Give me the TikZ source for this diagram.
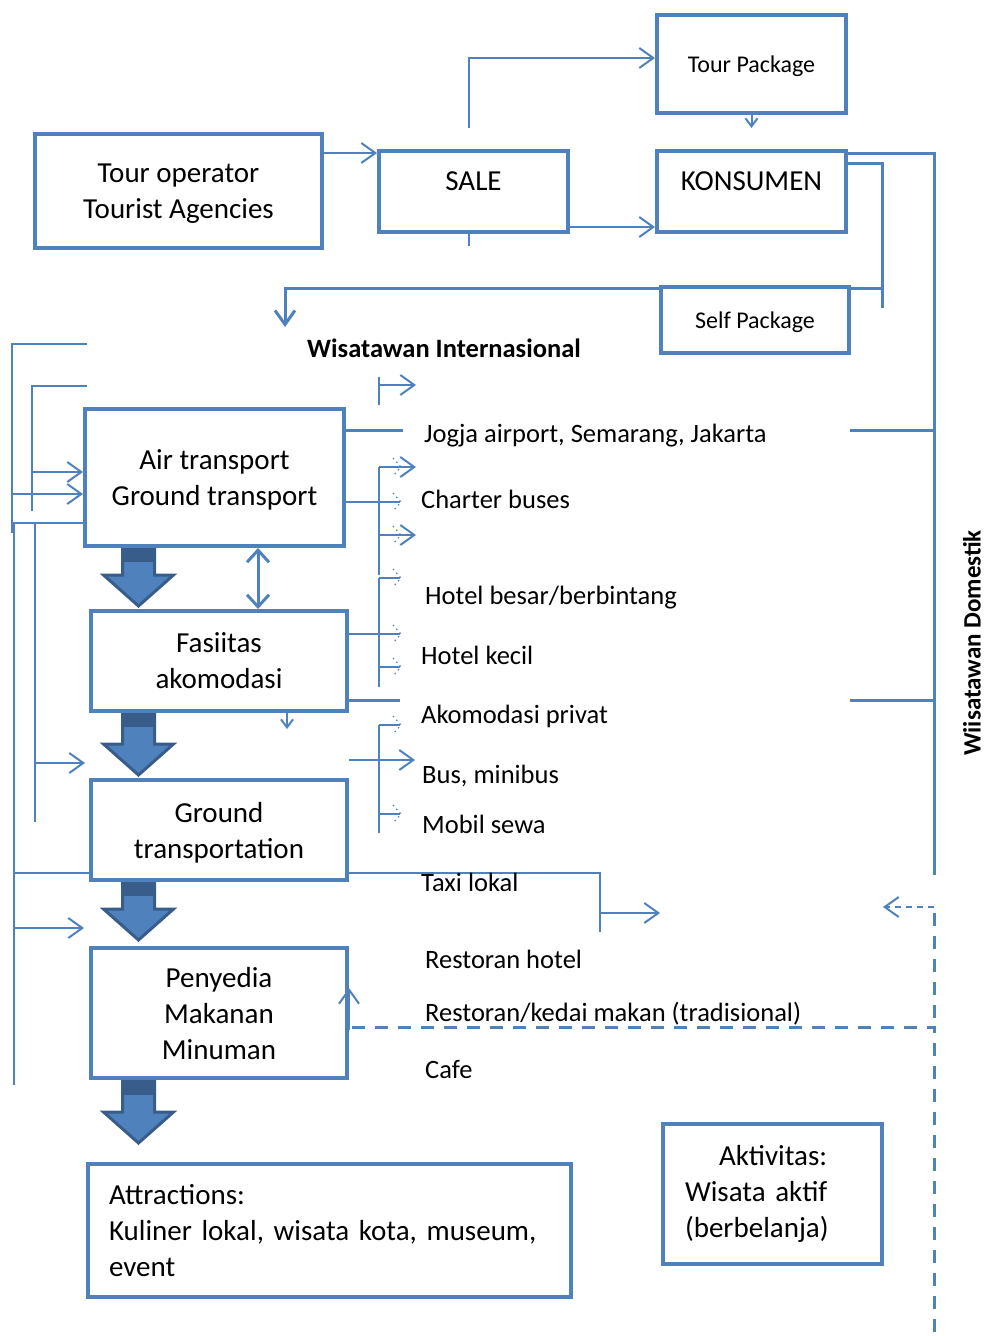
\documentclass[tikz,border=0pt]{standalone}
\usepackage{fontspec}
\setmainfont{Carlito}
\usetikzlibrary{arrows.meta,calc}

\definecolor{ublue}{RGB}{79,129,189}
\definecolor{udark}{RGB}{56,93,138}

\newcommand\bigfont{\fontsize{29}{36}\selectfont}
\newcommand\labfont{\fontsize{26.5}{32}\selectfont}
\newcommand\pkgfont{\fontsize{24}{29}\selectfont}

\tikzset{
  box/.style={draw=ublue, line width=4pt, fill=white, inner sep=0pt, align=center, font=\bigfont},
  link/.style={draw=ublue, line width=2pt},
  midlink/.style={draw=ublue, line width=3pt},
  dashlink/.style={draw=ublue, line width=3pt, dash pattern=on 13pt off 10pt},
  tip/.style={-{Straight Barb[length=14pt,width=20pt]}},
  smalltip/.style={-{Straight Barb[length=8pt,width=12pt]}},
  lab/.style={anchor=west, inner sep=0pt, font=\labfont, text height=18pt, text depth=5pt},
  ghost/.style={draw=ublue, line width=1.2pt, dash pattern=on 1.5pt off 3.5pt},
  blockarrow/.style={fill=ublue, draw=udark, line width=3pt},
}

% faint dotted barb at the end of a bracket branch
\newcommand\ghosttip[1]{\draw[ghost] ($(#1)+(-8,-9)$) -- (#1) -- ($(#1)+(-8,9)$);}
% big down arrow: x, top, tip
\newcommand\downblock[3]{%
  \filldraw[blockarrow] (#1-16,#2) -- (#1+16,#2) -- (#1+16,#3-31) -- (#1+35,#3-31)
    -- (#1,#3) -- (#1-35,#3-31) -- (#1-16,#3-31) -- cycle;
  \fill[udark] (#1-17.5,#2) rectangle (#1+17.5,#2+15);}

\begin{document}
\begin{tikzpicture}[x=1pt,y=-1pt]
\useasboundingbox (0,0) rectangle (988,1336);

% chain arrows
\downblock{138.5}{547}{606}
\downblock{138.5}{712}{775}
\downblock{138.5}{881}{940}
\downblock{138.5}{1080}{1143}

% boxes
\node[box, minimum width=287pt, minimum height=114pt, text depth=-1pt] (operator) at (178.5,191) {Tour operator\\Tourist Agencies};
\node[box, minimum width=189pt, minimum height=98pt, font=\pkgfont, text depth=-1pt] (tourpkg) at (751.5,64) {Tour Package};
\node[box, minimum width=189pt, minimum height=81pt, text depth=21pt] (sale) at (473.5,191.5) {SALE};
\node[box, minimum width=189pt, minimum height=81pt, text depth=21pt] (konsumen) at (751.5,191.5) {KONSUMEN};
\node[box, minimum width=259pt, minimum height=137pt, text depth=-1pt] (air) at (214.5,477.5) {Air transport\\Ground transport};
\node[box, minimum width=256pt, minimum height=100pt] (fasil) at (219,661) {Fasiitas\\akomodasi};
\node[box, minimum width=256pt, minimum height=100pt, text depth=-3pt] (ground) at (219,830) {Ground\\transportation};
\node[box, minimum width=256pt, minimum height=130pt, text depth=-5pt] (penyedia) at (219,1013) {Penyedia\\Makanan\\Minuman};
\node[box, minimum width=483pt, minimum height=133pt, align=left, text width=441pt] (attr) at (329.5,1230.5)
  {Attractions:\\Kuliner lokal, wisata kota, museum,\\event};
\node[box, minimum width=219pt, minimum height=140pt, align=left, text width=175pt] (aktiv) at (772.5,1194)
  {\hspace*{34pt}Aktivitas:\\Wisata aktif\\(berbelanja)};

% sale / konsumen
\coordinate (saleup) at (469,128);
\draw[link, tip] (operator.east |- 0,153) -- (sale.west |- 0,153);
\draw[link, tip] (saleup) |- (tourpkg.west |- 0,58);
\draw[link] (sale.south -| saleup) -- ++(0,12);
\draw[link, tip] (sale.east |- 0,227) -- (konsumen.west |- 0,227);
\draw[link, smalltip] (tourpkg.south) -- ++(0,13);

% konsumen to the two groups
\coordinate (domend) at (934,875);
\coordinate (selfend) at (882,308);
\coordinate (intl) at (285,327);
\draw[midlink] (konsumen.east |- 0,153) -| (domend);
\draw[midlink] (konsumen.east |- 0,163) -| (selfend);
\draw[midlink, tip] (selfend |- 0,288) -| (intl);
\node[box, minimum width=188pt, minimum height=66pt, font=\pkgfont, text depth=-1pt] (selfpkg) at (755,320) {Self Package};

\coordinate (airtick) at (850,430);
\coordinate (fastick) at (850,700);
\draw[midlink] (domend |- airtick) -- (airtick);
\draw[midlink] (domend |- fastick) -- (fastick);

% left side feeds
\coordinate (feedA) at (87,344);
\coordinate (feedB) at (87,386);
\draw[link] (feedA) -| (12,533);
\draw[link, tip] (12,494) -- (air.west |- 0,494);
\draw[link] (feedB) -| (32,511);
\draw[link, tip] (32,472) -- (air.west |- 0,472);
\draw[link] (air.west |- 0,523) -| (14,1085);
\draw[link] (air.west |- 0,523) -| (35,822);
\draw[link, tip] (35,763) -- (85,763);
\draw[link] (14,873) -- (ground.west |- 0,873);
\draw[link, tip] (14,928) -- (84,928);

% right side brackets
\coordinate (brk) at (379,0);
\draw[midlink] (air.east |- 0,430) -- (403,430);
\draw[link] (brk |- 0,377) -- (brk |- 0,405);
\draw[link, tip] (brk |- 0,385) -- (416,385);
\draw[link] (brk |- 0,467) -- (brk |- 0,575);
\draw[link, tip] (brk |- 0,467) -- (416,467);
\draw[link] (air.east |- 0,502) -- (400,502);
\draw[link, tip] (brk |- 0,535) -- (416,535);
\draw[link] (brk |- 0,578) -- (brk |- 0,687);
\draw[link] (brk |- 0,578) -- (400,578);
\draw[link] (fasil.east |- 0,634) -- (400,634);
\draw[link] (brk |- 0,667) -- (400,667);
\draw[midlink] (fasil.east |- 0,700) -- (400,700);
\draw[link] (brk |- 0,725) -- (brk |- 0,833);
\draw[link] (brk |- 0,725) -- (400,725);
\draw[link, tip] (fasil.east |- 0,760) -- (415,760);
\draw[link] (brk |- 0,814) -- (400,814);
\foreach \gy in {467,502,535,578,634,667,725,814}
  {\ghosttip{401,\gy}}

\coordinate (taxi) at (600,932);
\draw[link] (ground.east |- 0,873) -| (taxi);
\draw[link, tip] (taxi |- 0,913) -- (660,913);

% between the boxes
\draw[midlink, {Straight Barb[length=12pt,width=22pt]}-{Straight Barb[length=12pt,width=22pt]}]
  (air.south -| 258,0) -- (fasil.north -| 258,0);
\draw[link, smalltip] (fasil.south -| 287,0) -- ++(0,16);
\draw[link, tip] (penyedia.east |- 0,1030) -- (penyedia.east |- 0,988);

% domestic return (dashed)
\coordinate (domfoot) at (934,1336);
\draw[dashlink] (352,1027) -| (domfoot);
\draw[dashlink] (domend |- 0,913) -- (934,1027);
\draw[link, dash pattern=on 6pt off 5pt, tip] (domend |- 0,907) -- (883,907);

% labels
\node[font=\labfont\bfseries, inner sep=0pt] (intlab) at (444,348) {Wisatawan Internasional};
\node[font=\fontsize{25}{30}\selectfont\bfseries, inner sep=0pt, rotate=90] (domlab) at (972,643) {Wiisatawan Domestik};
\node[lab] (jogja) at (424,436) {Jogja airport, Semarang, Jakarta};
\node[lab] (charter) at (421,502) {Charter buses};
\node[lab] (hotelbig) at (425,598) {Hotel besar/berbintang};
\node[lab] (hotelsmall) at (421,658) {Hotel kecil};
\node[lab] (privat) at (421,717) {Akomodasi privat};
\node[lab] (bus) at (422,777) {Bus, minibus};
\node[lab] (mobil) at (422,827) {Mobil sewa};
\node[lab] (taxilab) at (421,885) {Taxi lokal};
\node[lab] (resthotel) at (425,962) {Restoran hotel};
\node[lab] (kedai) at (425,1015) {Restoran/kedai makan (tradisional)};
\node[lab] (cafe) at (425,1072) {Cafe};
\end{tikzpicture}
\end{document}
